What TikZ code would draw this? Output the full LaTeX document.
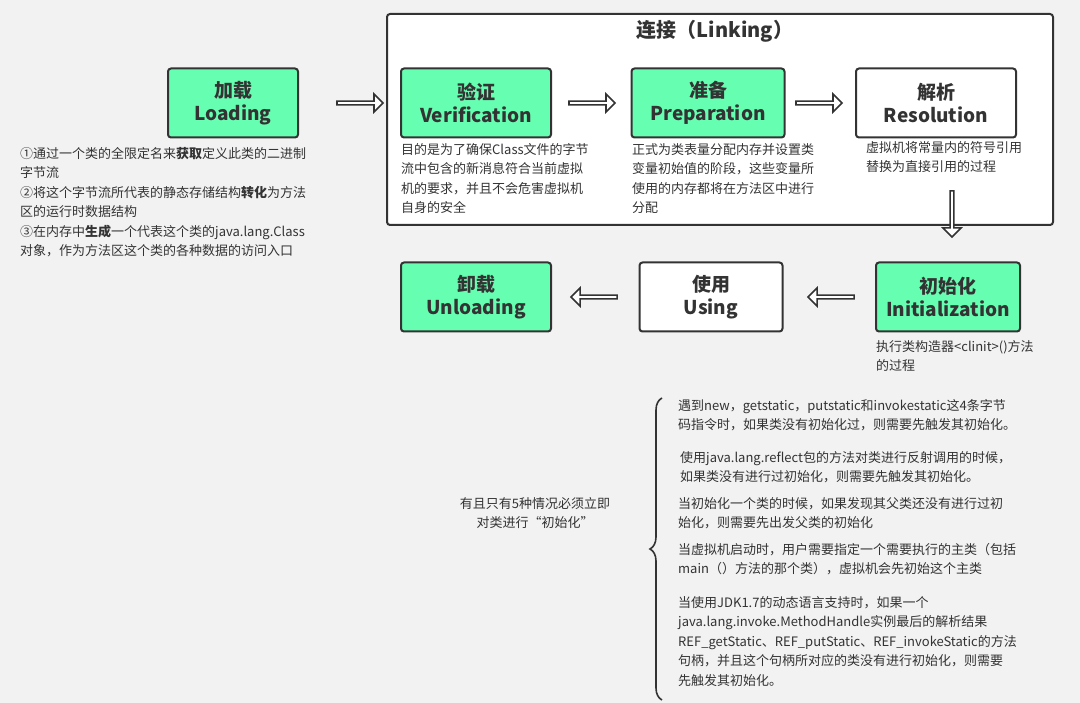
\documentclass[tikz,border=0pt]{standalone}
\usepackage{fontspec}
\setmainfont{Noto Sans CJK SC}
\usetikzlibrary{positioning,shapes.arrows,decorations.pathreplacing}
\definecolor{stagegreen}{RGB}{102,255,178}
\definecolor{ink}{RGB}{51,51,51}
\definecolor{paper}{RGB}{242,242,242}
\begin{document}
\begin{tikzpicture}[x=1pt,y=-1pt,
				stage/.style={rectangle, rounded corners=3pt, draw=ink, line width=2pt, minimum height=69pt, align=center, font=\fontsize{19}{23}\selectfont\bfseries, text=ink, inner sep=0pt},
				green/.style={stage, fill=stagegreen},
				plain/.style={stage, fill=white},
				note/.style={anchor=north west, align=left, inner sep=0pt, text=ink, font=\fontsize{13}{19.5}\selectfont},
				hollow/.style={single arrow, draw=ink, fill=white, line width=1.6pt, minimum height=46pt, minimum width=18pt, single arrow head extend=3pt, single arrow tip angle=90, inner sep=0pt}
			]
			\fill[paper] (0,0) rectangle (1080,703);
			\useasboundingbox (0,0) rectangle (1080,703);
			% linking frame
			\node[rectangle, rounded corners=3pt, draw=ink, line width=2pt, fill=white, minimum width=666pt, minimum height=211pt, anchor=north west] (linking) at (386,13) {};
			\node[text=ink, font=\fontsize{20}{24}\selectfont\bfseries] (linkingtitle) at (715,31) {连接（Linking）};
			% stages
			\node[green, minimum width=130pt] (loading) at (233,103) {加载\\Loading};
			\node[green, minimum width=150pt] (verification) at (476,103) {验证\\Verification};
			\node[green, minimum width=153pt] (preparation) at (708,103) {准备\\Preparation};
			\node[plain, minimum width=160pt] (resolution) at (936,103) {解析\\Resolution};
			\node[green, minimum width=144pt] (initialization) at (948,297) {初始化\\Initialization};
			\node[plain, minimum width=143pt] (using) at (711,297) {使用\\Using};
			\node[green, minimum width=150pt] (unloading) at (476,297) {卸载\\Unloading};
			% hollow arrows
			\node[hollow] (arrowone) at (359,103) {};
			\node[hollow] (arrowtwo) at (591,103) {};
			\node[hollow] (arrowthree) at (818,103) {};
			\node[hollow, shape border rotate=270] (arrowfour) at (952,213) {};
			\node[hollow, shape border rotate=180] (arrowfive) at (832,297) {};
			\node[hollow, shape border rotate=180] (arrowsix) at (595,297) {};
			% descriptions
			\node[note] (loadingtext) at (20,147) {①通过一个类的全限定名来\textbf{获取}定义此类的二进制\\字节流\\②将这个字节流所代表的静态存储结构\textbf{转化}为方法\\区的运行时数据结构\\③在内存中\textbf{生成}一个代表这个类的java.lang.Class\\对象，作为方法区这个类的各种数据的访问入口};
			\node[note] (verificationtext) at (401,143) {目的是为了确保Class文件的字节\\流中包含的新消息符合当前虚拟\\机的要求，并且不会危害虚拟机\\自身的安全};
			\node[note] (preparationtext) at (632,143) {正式为类表量分配内存并设置类\\变量初始值的阶段，这些变量所\\使用的内存都将在方法区中进行\\分配};
			\node[note] (resolutiontext) at (866,141) {虚拟机将常量内的符号引用\\替换为直接引用的过程};
			\node[note] (initializationtext) at (876,340) {执行类构造器<clinit>()方法\\的过程};
			% five cases
			\coordinate (bracetop) at (662,398);
			\coordinate (bracebottom) at (662,700);
			\draw[ink, line width=1.6pt, decoration={brace, amplitude=12pt}, decorate] (bracebottom) -- (bracetop);
			\node[align=center, text=ink, font=\fontsize{13}{19.5}\selectfont] (casesummary) at (535,513) {有且只有5种情况必须立即\\对类进行“初始化”};
			\node[note] (caseone) at (678,399) {遇到new，getstatic，putstatic和invokestatic这4条字节\\码指令时，如果类没有初始化过，则需要先触发其初始化。};
			\node[note] (casetwo) at (680,451) {使用java.lang.reflect包的方法对类进行反射调用的时候，\\如果类没有进行过初始化，则需要先触发其初始化。};
			\node[note] (casethree) at (678,497) {当初始化一个类的时候，如果发现其父类还没有进行过初\\始化，则需要先出发父类的初始化};
			\node[note] (casefour) at (678,543) {当虚拟机启动时，用户需要指定一个需要执行的主类（包括\\main（）方法的那个类），虚拟机会先初始这个主类};
			\node[note] (casefive) at (678,596) {当使用JDK1.7的动态语言支持时，如果一个\\java.lang.invoke.MethodHandle实例最后的解析结果\\REF\_getStatic、REF\_putStatic、REF\_invokeStatic的方法\\句柄，并且这个句柄所对应的类没有进行初始化，则需要\\先触发其初始化。};
			\end{tikzpicture}
\end{document}
